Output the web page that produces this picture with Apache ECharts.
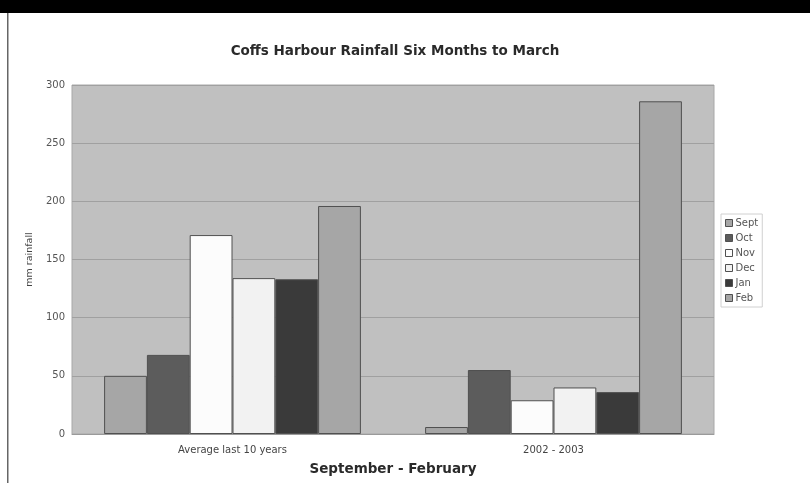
<!DOCTYPE html>
<html>
<head>
<meta charset="utf-8">
<script src="https://cdn.jsdelivr.net/npm/echarts@6/dist/echarts.min.js"></script>
<style>
  html, body { margin: 0; padding: 0; background: #fff; }
  #chart { width: 810px; height: 483px; }
</style>
</head>
<body>
<div id="chart"></div>
<script>
var categories = ['Average last 10 years', '2002 - 2003'];
var months = ['Sept', 'Oct', 'Nov', 'Dec', 'Jan', 'Feb'];
var sept = [50, 6];
var oct = [68, 55];
var nov = [171, 29];
var dec = [134, 40];
var jan = [133, 36];
var feb = [196, 286];
var yTicks = [0, 50, 100, 150, 200, 250, 300];

var fills = ['#a6a6a6', '#5c5c5c', '#fcfcfc', '#f2f2f2', '#3a3a3a', '#a6a6a6'];
var values = [sept, oct, nov, dec, jan, feb];

var myChart = echarts.init(document.getElementById('chart'));
var font = 'DejaVu Sans, sans-serif';

var series = [];
for (var i = 0; i < months.length; i++) {
    series.push({
        name: months[i],
        type: 'bar',
        data: values[i],
        barGap: '0%',
        barCategoryGap: '20%',
        itemStyle: {
            color: fills[i],
            borderColor: '#505050',
            borderWidth: 1
        }
    });
}

var option = {
    animation: false,
    backgroundColor: '#fff',
    title: {
        text: 'Coffs Harbour Rainfall Six Months to March',
        left: 390,
        textAlign: 'center',
        top: 39,
        textStyle: {fontFamily: font, fontSize: 13.5, fontWeight: 'bold', color: '#2a2a2a'}
    },
    legend: {
        data: months,
        orient: 'vertical',
        left: 721,
        top: 214,
        itemWidth: 7,
        itemHeight: 7,
        itemGap: 5,
        padding: [4, 4, 4, 4],
        borderColor: '#d0d0d0',
        borderWidth: 1,
        icon: 'rect',
        itemStyle: {borderColor: '#505050', borderWidth: 1},
        textStyle: {fontFamily: font, fontSize: 10, lineHeight: 10, color: '#555', padding: [0, 0, 0, -2]}
    },
    grid: {
        left: 72, right: 96, top: 85, bottom: 49,
        show: true,
        backgroundColor: '#c0c0c0',
        borderColor: '#a8a8a8',
        borderWidth: 1
    },
    xAxis: {
        type: 'category',
        data: categories,
        name: 'September - February',
        nameLocation: 'middle',
        nameGap: 28,
        nameTextStyle: {fontFamily: font, fontSize: 13.5, fontWeight: 'bold', color: '#2a2a2a'},
        axisLine: {lineStyle: {color: '#9a9a9a'}},
        axisTick: {length: 3, lineStyle: {color: '#9a9a9a'}},
        axisLabel: {fontFamily: font, fontSize: 10, color: '#444', margin: 11}
    },
    yAxis: {
        type: 'value',
        min: 0,
        max: 300,
        interval: 50,
        name: 'mm rainfall',
        nameLocation: 'middle',
        nameGap: 34,
        nameTextStyle: {fontFamily: font, fontSize: 9.5, color: '#444'},
        axisLine: {show: false},
        axisTick: {show: false},
        axisLabel: {
            fontFamily: font, fontSize: 10, color: '#555', margin: 7,
            formatter: function (v) { return yTicks.indexOf(v) >= 0 ? String(v) : ''; }
        },
        splitLine: {lineStyle: {color: '#a0a0a0', width: 1}}
    },
    graphic: [
        {type: 'rect', left: 0, top: 0, shape: {width: 810, height: 13}, style: {fill: '#000'}},
        {type: 'rect', left: 7, top: 13, shape: {width: 1.5, height: 470}, style: {fill: '#666'}}
    ],
    series: series
};

myChart.setOption(option);
</script>
</body>
</html>
